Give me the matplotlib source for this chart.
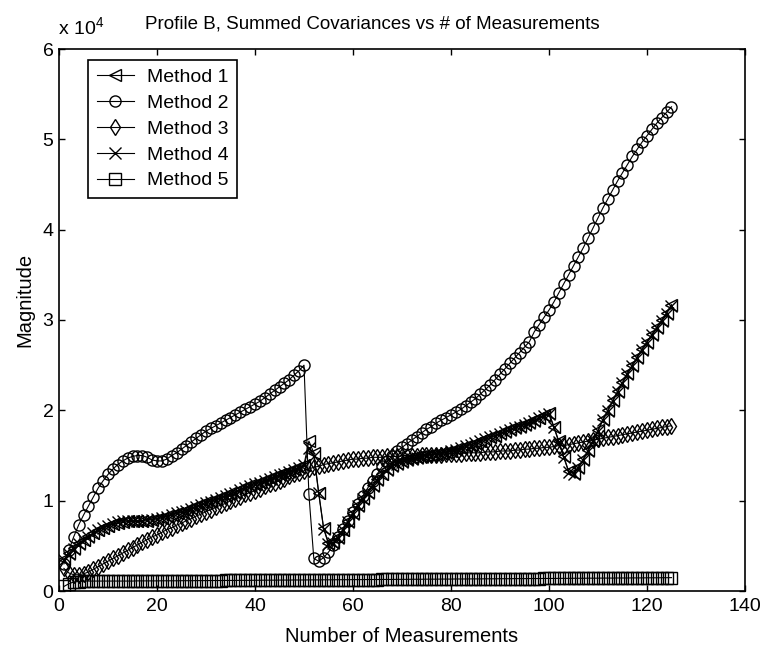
import numpy as np
import matplotlib
matplotlib.use('Agg')
import matplotlib.pyplot as plt
from matplotlib.ticker import FuncFormatter

plt.rcParams['font.family'] = ['Liberation Sans', 'DejaVu Sans']
plt.rcParams['mathtext.fontset'] = 'custom'
plt.rcParams['mathtext.rm'] = 'Liberation Sans'
plt.rcParams['mathtext.default'] = 'regular'

# measurement index
n_meas = np.arange(1, 126)

method1 = [
    3500, 4200, 4800, 5300, 5700, 6100, 6400, 6700, 7000, 7200,
    7400, 7500, 7600, 7700, 7700, 7700, 7700, 7800, 7900, 8000,
    8100, 8300, 8400, 8600, 8800, 9000, 9200, 9400, 9600, 9800,
    10000, 10200, 10400, 10600, 10800, 11000, 11300, 11500, 11700, 11900,
    12100, 12300, 12500, 12700, 12900, 13100, 13300, 13500, 13700, 14000,
    16600, 15300, 10900, 7000, 5300, 5400, 6000, 6800, 7700, 8600,
    9500, 10300, 11000, 11700, 12400, 13000, 13500, 13900, 14200, 14400,
    14600, 14700, 14800, 14900, 15000, 15100, 15200, 15300, 15400, 15500,
    15700, 15800, 16000, 16200, 16400, 16600, 16800, 17000, 17200, 17500,
    17700, 17900, 18100, 18300, 18500, 18700, 18900, 19200, 19500, 19700,
    18200, 16600, 14900, 13300, 13100, 13700, 14600, 15600, 16700, 17800,
    19000, 20000, 21100, 22100, 23100, 24100, 25000, 25900, 26800, 27600,
    28400, 29200, 30000, 30800, 31700]

method2 = [
    3000, 4500, 6000, 7300, 8400, 9400, 10400, 11400, 12200, 12900,
    13500, 14000, 14400, 14700, 14900, 15000, 15000, 14800, 14500, 14400,
    14400, 14600, 15000, 15300, 15700, 16100, 16500, 16900, 17300, 17700,
    18000, 18300, 18600, 18900, 19200, 19500, 19800, 20100, 20400, 20700,
    21000, 21400, 21800, 22200, 22600, 23000, 23400, 23900, 24400, 25000,
    10700, 3600, 3300, 3700, 4300, 5100, 6000, 6900, 7800, 8700,
    9600, 10500, 11400, 12200, 13000, 13800, 14400, 15000, 15500, 15900,
    16300, 16700, 17100, 17500, 17900, 18200, 18600, 18900, 19200, 19500,
    19800, 20100, 20500, 20900, 21300, 21800, 22300, 22800, 23400, 24000,
    24600, 25200, 25800, 26400, 27000, 27600, 28700, 29500, 30300, 31100,
    32000, 33000, 34000, 35000, 36000, 37000, 38000, 39100, 40200, 41300,
    42400, 43400, 44400, 45400, 46300, 47200, 48100, 48900, 49700, 50400,
    51100, 51800, 52400, 53000, 53600]

method3 = [
    2500, 2000, 1800, 1800, 1900, 2100, 2400, 2700, 3000, 3300,
    3600, 3900, 4200, 4500, 4800, 5100, 5400, 5700, 6000, 6200,
    6500, 6800, 7000, 7300, 7500, 7800, 8000, 8300, 8500, 8800,
    9000, 9300, 9500, 9700, 10000, 10200, 10400, 10700, 10900, 11100,
    11300, 11600, 11800, 12000, 12200, 12400, 12700, 12900, 13100, 13300,
    13500, 13700, 13800, 14000, 14100, 14200, 14300, 14400, 14500, 14600,
    14600, 14700, 14700, 14800, 14800, 14800, 14900, 14900, 14900, 15000,
    15000, 15000, 15000, 15100, 15100, 15100, 15100, 15100, 15200, 15200,
    15200, 15200, 15300, 15300, 15300, 15300, 15400, 15400, 15400, 15500,
    15500, 15500, 15600, 15600, 15700, 15700, 15800, 15800, 15900, 15900,
    16000, 16100, 16100, 16200, 16300, 16400, 16500, 16600, 16700, 16800,
    16900, 17000, 17100, 17200, 17300, 17400, 17500, 17600, 17700, 17800,
    17900, 18000, 18100, 18200, 18300]

method4 = [
    3400, 4100, 4700, 5200, 5600, 6000, 6400, 6700, 7000, 7200,
    7400, 7600, 7700, 7800, 7800, 7800, 7800, 7900, 7900, 8000,
    8100, 8200, 8400, 8600, 8700, 8900, 9100, 9300, 9500, 9700,
    9900, 10100, 10300, 10500, 10700, 10900, 11200, 11400, 11600, 11800,
    12000, 12200, 12400, 12600, 12800, 13000, 13200, 13400, 13600, 13900,
    15800, 15000, 10800, 6900, 5200, 5300, 5900, 6700, 7600, 8500,
    9400, 10200, 10900, 11600, 12300, 12900, 13400, 13800, 14100, 14300,
    14500, 14600, 14700, 14800, 14900, 15000, 15100, 15200, 15300, 15500,
    15600, 15800, 16000, 16200, 16400, 16600, 16800, 17000, 17200, 17400,
    17600, 17800, 18000, 18200, 18400, 18600, 18800, 19100, 19400, 19600,
    18100, 16500, 14800, 13200, 13000, 13600, 14500, 15500, 16600, 17700,
    18900, 19900, 21000, 22000, 23000, 24000, 24900, 25800, 26700, 27500,
    28300, 29100, 29900, 30700, 31600]

method5 = [
    500, 800, 1000, 1050, 1100, 1100, 1100, 1100, 1100, 1100,
    1100, 1100, 1100, 1100, 1100, 1120, 1120, 1120, 1120, 1120,
    1130, 1130, 1130, 1130, 1140, 1140, 1140, 1150, 1150, 1150,
    1160, 1160, 1160, 1170, 1170, 1170, 1180, 1180, 1180, 1190,
    1190, 1200, 1200, 1200, 1210, 1210, 1210, 1220, 1220, 1220,
    1230, 1230, 1230, 1240, 1240, 1240, 1250, 1250, 1250, 1260,
    1260, 1260, 1270, 1270, 1270, 1280, 1280, 1280, 1290, 1290,
    1290, 1300, 1300, 1300, 1310, 1310, 1310, 1320, 1320, 1320,
    1330, 1330, 1330, 1340, 1340, 1340, 1350, 1350, 1350, 1360,
    1360, 1360, 1370, 1370, 1370, 1380, 1380, 1380, 1390, 1390,
    1390, 1400, 1400, 1400, 1410, 1410, 1410, 1420, 1420, 1420,
    1430, 1430, 1430, 1440, 1440, 1440, 1450, 1450, 1450, 1460,
    1460, 1460, 1470, 1470, 1480]

series = [method1, method2, method3, method4, method5]
labels = ['Method 1', 'Method 2', 'Method 3', 'Method 4', 'Method 5']
markers = ['<', 'o', 'd', 'x', 's']

fig = plt.figure(figsize=(7.64, 6.51), dpi=100)
ax = fig.add_axes([59 / 764, 1 - 591 / 651, 686 / 764, 542 / 651])

for y, lab, m in zip(series, labels, markers):
    ax.plot(n_meas, y, color='black', linewidth=0.8, marker=m, markersize=8,
            markerfacecolor='none', markeredgecolor='black', markeredgewidth=1.0,
            label=lab)

ax.set_xlim(0, 140)
ax.set_ylim(0, 60000)
ax.set_xticks(np.arange(0, 141, 20))
ax.set_yticks(np.arange(0, 60001, 10000))
ax.yaxis.set_major_formatter(FuncFormatter(lambda v, p: '%d' % round(v / 1e4)))
ax.tick_params(direction='in', top=True, right=True, length=4.5, width=1,
               labelsize=14)
ax.tick_params(axis='x', pad=5)
ax.tick_params(axis='y', pad=4)
for s in ax.spines.values():
    s.set_linewidth(1.2)

ax.set_title('Profile B, Summed Covariances vs # of Measurements',
             fontsize=13.5, x=0.456, pad=15)
ax.set_xlabel('Number of Measurements', fontsize=14.5)
ax.xaxis.set_label_coords(0.5, -0.066)
ax.set_ylabel('Magnitude', fontsize=14.5)
ax.yaxis.set_label_coords(-0.036, 0.537)
fig.text(58 / 764, 1 - 34 / 651, r'x 10$^{4}$', fontsize=14, va='baseline')

leg = ax.legend(loc='upper left', bbox_to_anchor=(0.042, 0.98), fontsize=14,
                labelspacing=0.42, handlelength=1.9, handletextpad=0.7,
                borderpad=0.45, borderaxespad=0, fancybox=False, framealpha=1)
leg.get_frame().set_edgecolor('black')
leg.get_frame().set_linewidth(1.2)

fig.savefig('out.png', dpi=100)
